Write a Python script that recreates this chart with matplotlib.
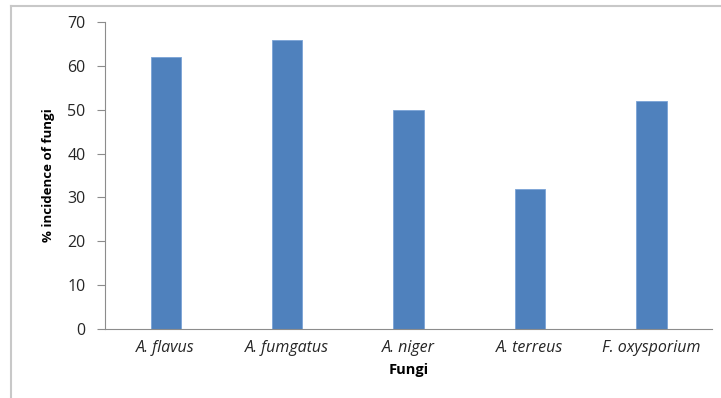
import matplotlib
matplotlib.use("Agg")
import matplotlib.pyplot as plt
from matplotlib.lines import Line2D

fungi = ["A. flavus", "A. fumgatus", "A. niger", "A. terreus", "F. oxysporium"]
incidence = [62, 66, 50, 32, 52]
yticks = [0, 10, 20, 30, 40, 50, 60, 70]

plt.rcParams['font.family'] = ['Open Sans', 'DejaVu Sans']

fig = plt.figure(figsize=(7.21, 3.98), dpi=100)
ax = fig.add_axes([0.1456, 0.1734, 0.842, 0.7713])

x = list(range(len(fungi)))
ax.bar(x, incidence, width=0.25, color="#4f81bd", edgecolor="#7aa3d6", linewidth=0.6)

ax.set_xlim(-0.5, len(fungi) - 0.5)
ax.set_ylim(0, 70)
ax.set_yticks(yticks)
ax.set_yticklabels([str(v) for v in yticks], fontsize=11.5, color="#262626")
ax.set_xticks(x)
ax.set_xticklabels(fungi, fontsize=11.5, style="italic", color="#262626")

for s in ["top", "right"]:
    ax.spines[s].set_visible(False)
ax.spines["left"].set_color("#8c8c8c")
ax.spines["bottom"].set_color("#8c8c8c")
ax.tick_params(axis="y", length=6, color="#8c8c8c", pad=8)
ax.tick_params(axis="x", length=0, pad=8)

ax.set_xlabel("Fungi", fontsize=10.5, fontweight="bold", labelpad=5)
ax.set_ylabel("% incidence of fungi", fontsize=9.5, fontweight="bold", labelpad=9)

# outer chart frame (top and left edges visible)
fig.add_artist(Line2D([11/721, 1], [1 - 6/398, 1 - 6/398], transform=fig.transFigure, color="#c8c8c8", lw=1.5))
fig.add_artist(Line2D([11/721, 11/721], [0, 1 - 6/398], transform=fig.transFigure, color="#c8c8c8", lw=1.5))

fig.savefig("out.png", dpi=100)
